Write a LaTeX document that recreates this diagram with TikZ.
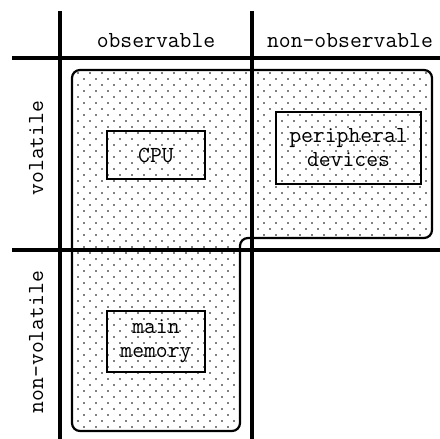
\documentclass[tikz,border=0pt]{standalone}
\usetikzlibrary{patterns}

\pgfdeclarepatternformonly{sparse dots}{\pgfqpoint{-1pt}{-1pt}}{\pgfqpoint{13pt}{13pt}}{\pgfqpoint{12pt}{12pt}}
{
  \pgfpathcircle{\pgfqpoint{0pt}{0pt}}{.8pt}
  \pgfpathcircle{\pgfqpoint{6pt}{6pt}}{.8pt}
  \pgfusepath{fill}
}

\begin{document}
\begin{tikzpicture}
  [x=1pt,y=-1pt,
   every node/.style={font=\ttfamily\fontsize{23}{24}\selectfont},
   grid/.style={line width=3.2pt},
   region/.style={line width=2.2pt,rounded corners=8pt,pattern=sparse dots},
   unit/.style={draw,line width=2.2pt,align=center,inner sep=0pt}]
  \useasboundingbox (0,0) rectangle (440,439);

  % observable area
  \draw[region] (72,70) -- (432,70) -- (432,238) -- (240,238)
    -- (240,431) -- (72,431) -- cycle;

  \draw[grid] (60,11) -- (60,439);
  \draw[grid] (252,11) -- (252,439);
  \draw[grid] (12,58) -- (440,58);
  \draw[grid] (12,250) -- (440,250);

  \node[anchor=base] (obs) at (156,47) {observable};
  \node[anchor=base] (nobs) at (350,47) {non-observable};
  \node[anchor=base,rotate=90] (vol) at (43,148) {volatile};
  \node[anchor=base,rotate=90] (nvol) at (43,342) {non-volatile};

  \node[unit,minimum width=98,minimum height=48] (cpu) at (156,155) {CPU};
  \node[unit,minimum width=145,minimum height=72] (dev) at (348.5,148) {peripheral\\devices};
  \node[unit,minimum width=98,minimum height=61] (mem) at (156,341.5) {main\\memory};
\end{tikzpicture}
\end{document}
